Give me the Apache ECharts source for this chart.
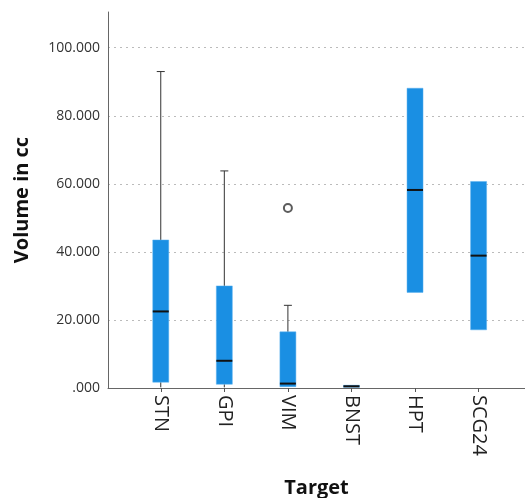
<!DOCTYPE html>
<html>
<head>
<meta charset="utf-8">
<script src="https://cdn.jsdelivr.net/npm/echarts@6/dist/echarts.min.js"></script>
<style>
  html, body { margin: 0; padding: 0; background: #fff; }
  #chart { width: 525px; height: 498px; }
</style>
</head>
<body>
<div id="chart"></div>
<script>
// targets, in axis order
var targets = ['STN', 'GPI', 'VIM', 'BNST', 'HPT', 'SCG24'];
// box statistics (cc)
var mins    = [0.2, 0.2, 0.3, 0.2, 28.1, 17.1];
var q1s     = [1.7, 1.1, 0.4, 0.3, 28.1, 17.1];
var medians = [22.5, 8.0, 1.3, 0.5, 58.2, 38.9];
var q3s     = [43.5, 30.0, 16.5, 0.8, 88.1, 60.7];
var maxs    = [93.0, 63.8, 24.3, 0.9, 88.1, 60.7];
// outliers: [target index, value]
var outliers = [[2, 52.9]];
var yTicks = [0, 20, 40, 60, 80, 100];

var boxData = targets.map(function (t, i) {
    return [i, mins[i], q1s[i], medians[i], q3s[i], maxs[i]];
});

function renderBox(params, api) {
    var x = api.value(0);
    var pMin = api.coord([x, api.value(1)]);
    var pQ1 = api.coord([x, api.value(2)]);
    var pMed = api.coord([x, api.value(3)]);
    var pQ3 = api.coord([x, api.value(4)]);
    var pMax = api.coord([x, api.value(5)]);
    var cx = pMed[0];
    var bw = 16, cap = 8;
    var lineStyle = { stroke: '#333', lineWidth: 1 };
    var kids = [];
    if (pMax[1] < pQ3[1] - 0.5) {
        kids.push({ type: 'line', shape: { x1: cx, y1: pQ3[1], x2: cx, y2: pMax[1] }, style: lineStyle });
        kids.push({ type: 'line', shape: { x1: cx - cap / 2, y1: pMax[1], x2: cx + cap / 2, y2: pMax[1] }, style: lineStyle });
    }
    if (pMin[1] > pQ1[1] + 0.5) {
        kids.push({ type: 'line', shape: { x1: cx, y1: pQ1[1], x2: cx, y2: pMin[1] }, style: lineStyle });
    }
    kids.push({
        type: 'rect',
        shape: { x: cx - bw / 2, y: pQ3[1], width: bw, height: Math.max(pQ1[1] - pQ3[1], 2) },
        style: { fill: '#1a8fe3', stroke: '#5ab0ee', lineWidth: 0.5 }
    });
    kids.push({
        type: 'line',
        shape: { x1: cx - bw / 2, y1: pMed[1], x2: cx + bw / 2, y2: pMed[1] },
        style: { stroke: '#111', lineWidth: 2 }
    });
    return { type: 'group', children: kids };
}

var chart = echarts.init(document.getElementById('chart'));
chart.setOption({
    animation: false,
    grid: { left: 108, right: 0, top: 12, bottom: 110, outerBoundsMode: 'none', containLabel: false },
    xAxis: {
        type: 'value',
        min: -0.83,
        max: 5.73,
        name: 'Target',
        nameLocation: 'middle',
        nameGap: 90,
        nameTextStyle: { fontFamily: 'Open Sans', fontSize: 20, fontWeight: 'bold', color: '#111' },
        splitLine: { show: false },
        axisLine: { show: true, onZero: false, lineStyle: { color: '#666', width: 1 } },
        axisTick: { show: true, length: 4, customValues: [0, 1, 2, 3, 4, 5], lineStyle: { color: '#555' } },
        axisLabel: {
            customValues: [0, 1, 2, 3, 4, 5],
            rotate: -90,
            margin: 7,
            fontFamily: 'Open Sans',
            fontSize: 20,
            color: '#222',
            formatter: function (v) { return targets[Math.round(v)] || ''; }
        }
    },
    yAxis: {
        type: 'value',
        min: 0,
        max: 110.5,
        name: 'Volume in cc',
        nameLocation: 'middle',
        nameGap: 76,
        nameTextStyle: { fontFamily: 'Open Sans', fontSize: 20, fontWeight: 'bold', color: '#111' },
        axisLine: { show: true, onZero: false, lineStyle: { color: '#666', width: 1 } },
        axisTick: { show: false, customValues: yTicks },
        splitLine: { show: true, lineStyle: { color: '#bbb', type: [2, 4], width: 1 } },
        axisLabel: {
            customValues: yTicks,
            margin: 8,
            fontFamily: 'Open Sans',
            fontSize: 14,
            color: '#333',
            formatter: function (v) { return v.toFixed(3).replace(/^0/, ''); }
        }
    },
    series: [
        {
            type: 'custom',
            renderItem: renderBox,
            encode: { x: 0, y: [1, 2, 3, 4, 5] },
            data: boxData,
            z: 3
        },
        {
            type: 'scatter',
            symbol: 'emptyCircle',
            symbolSize: 8,
            itemStyle: { color: '#333', borderColor: '#333', borderWidth: 1.5 },
            data: outliers,
            z: 4
        }
    ]
});
</script>
</body>
</html>
